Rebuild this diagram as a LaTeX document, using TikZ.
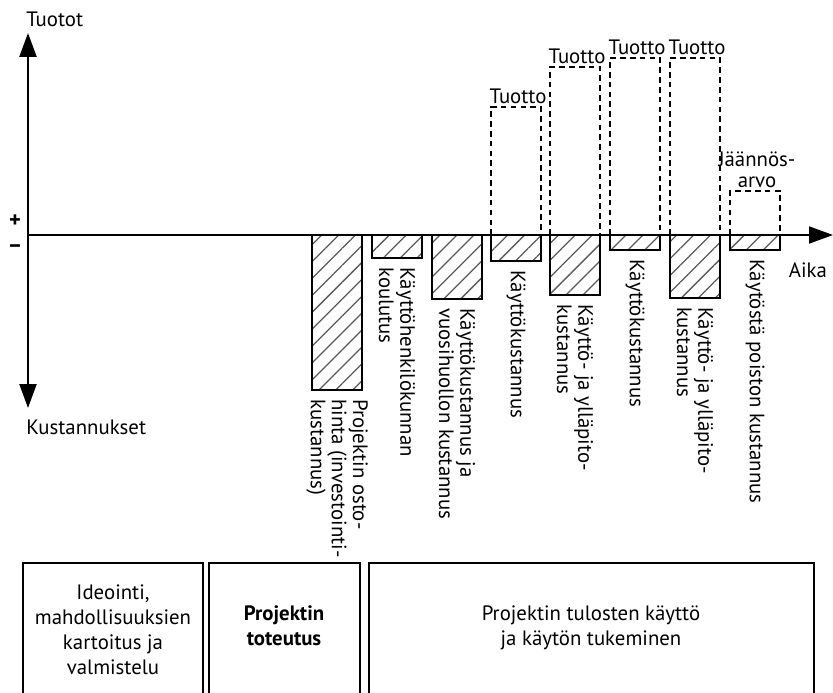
\documentclass[tikz,border=0pt]{standalone}
\usepackage{fontspec}
\setmainfont{PT Sans}
\usetikzlibrary{arrows.meta,patterns.meta}

\begin{document}
\begin{tikzpicture}[x=0.025cm, y=-0.025cm, font=\fontsize{14.8}{15}\selectfont,
    akseli/.style={line width=1.8pt, -{Triangle[length=17pt,width=12pt]}},
    kulu/.style={draw, line width=1.1pt, pattern={Lines[angle=45,distance=8.5pt,line width=0.9pt]}, pattern color=black!65},
    tuotto/.style={draw, line width=1pt, dash pattern=on 4pt off 3pt},
    selite/.style={rotate=-90, anchor=west, align=left, inner sep=0pt},
    vaihe/.style={align=center, font=\fontsize{14.8}{17.8}\selectfont},
    merkki/.style={font=\fontsize{16}{16}\bfseries, inner sep=0pt}]
    \useasboundingbox (0,0) rectangle (833,692);

    % tuotot (dashed) above the axis
    \foreach \x/\yla/\teksti [count=\i] in {491/107/Tuotto, 550/67/Tuotto, 610/58/Tuotto, 670/58/Tuotto, 730/191/{J\"a\"ann\"os-\\arvo}} {
        \draw[tuotto] (\x,235) |- (\x+50,\yla) -- (\x+50,235);
        \node[anchor=south, align=center, inner sep=2pt] (t\i) at (\x+27,\yla) {\teksti};
    }

    % kustannukset (hatched) below the axis
    \foreach \x/\ala/\teksti [count=\i] in {
        312/390/{Projektin osto-\\hinta (investointi-\\kustannus)},
        372/258/{K\"aytt\"ohenkil\"okunnan\\koulutus},
        432/299/{K\"aytt\"okustannus ja\\vuosihuollon kustannus},
        491/261/{K\"aytt\"okustannus},
        550/295/{K\"aytt\"o- ja yll\"apito-\\kustannus},
        610/250/{K\"aytt\"okustannus},
        670/298/{K\"aytt\"o- ja yll\"apito-\\kustannus},
        730/250/{K\"ayt\"ost\"a poiston kustannus}} {
        \draw[kulu] (\x,235) rectangle (\x+50,\ala);
        \node[selite] (k\i) at (\x+25,\ala+9) {\teksti};
    }

    % axes
    \coordinate (o) at (28,235);
    \coordinate (ylos) at (28,33);
    \coordinate (alas) at (28,408);
    \coordinate (oikea) at (833,235);
    \draw[akseli] (o) -- (ylos);
    \draw[akseli] (o) -- (alas);
    \draw[akseli, line width=1.5pt] (o) -- (oikea);

    \node[anchor=west, inner sep=0pt] (tuotot) at (26,19) {Tuotot};
    \node[anchor=west, inner sep=0pt] (kustannukset) at (26,427) {Kustannukset};
    \node (aika) at (808,270) {Aika};
    \node[merkki] (plus) at (15,221) {+};
    \node[merkki] (miinus) at (15,249) {--};

    % phases at the bottom, boxes open downwards
    \draw[line width=1pt] (23,700) |- (203,563) -- (203,700);
    \draw[line width=1pt] (209,700) |- (360,563) -- (360,700);
    \draw[line width=1pt] (369,700) |- (814,563) -- (814,700);
    \node[vaihe] (ideointi) at (113,630) {Ideointi,\\mahdollisuuksien\\kartoitus ja\\valmistelu};
    \node[vaihe] (toteutus) at (284,626) {\textbf{Projektin}\\\textbf{toteutus}};
    \node[vaihe] (kaytto) at (591,628) {Projektin tulosten k\"aytt\"o\\ja k\"ayt\"on tukeminen};
\end{tikzpicture}
\end{document}
